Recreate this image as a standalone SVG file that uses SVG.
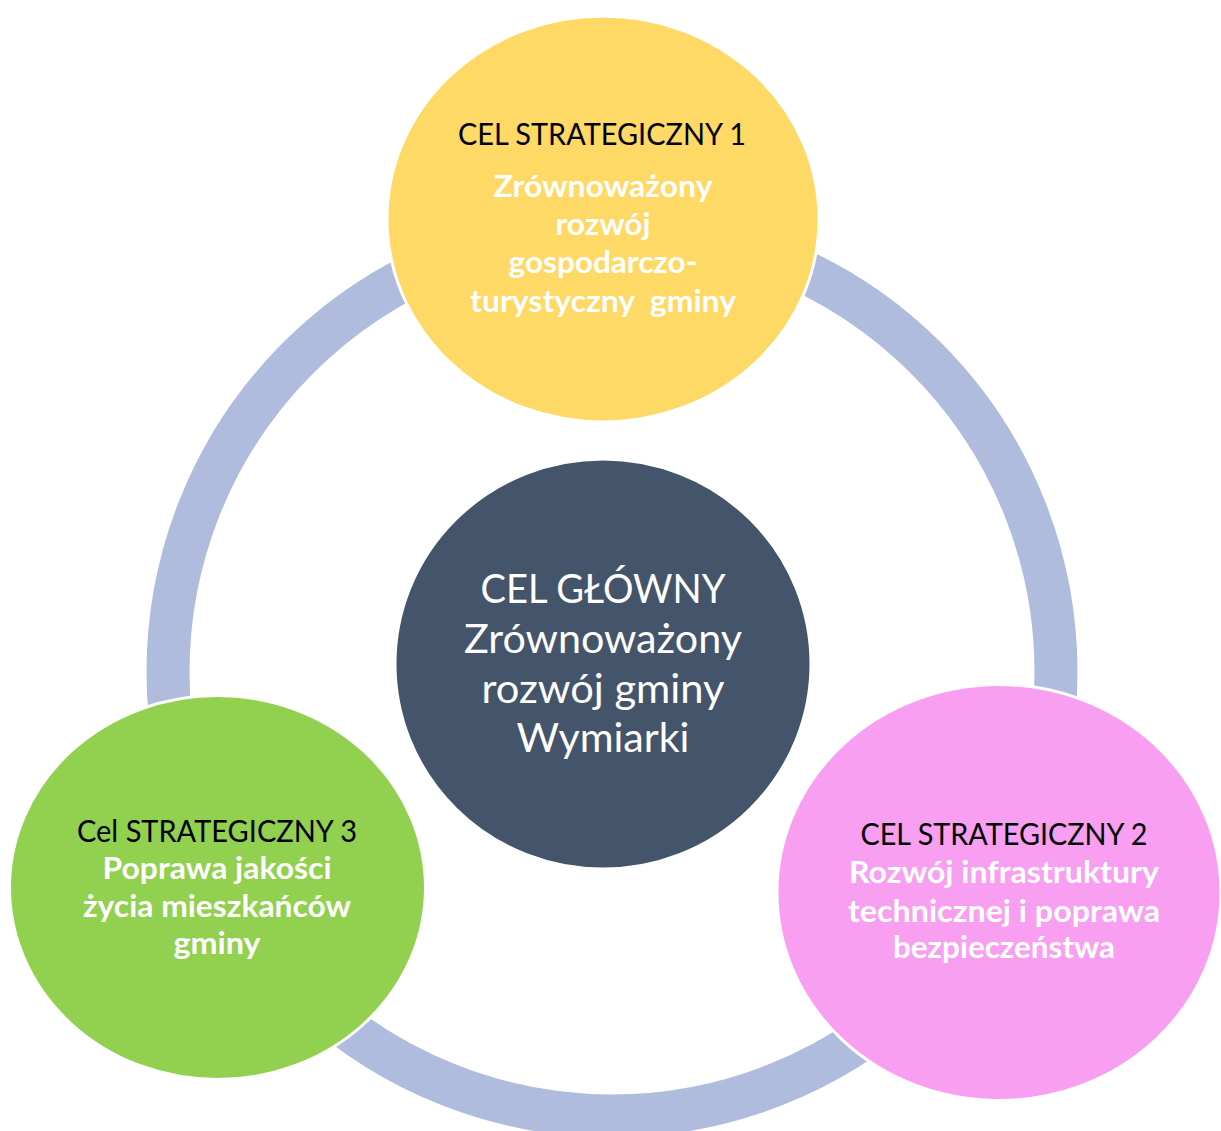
<svg xmlns="http://www.w3.org/2000/svg" width="1221" height="1131" viewBox="0 0 1221 1131">
<style>
.node{stroke:#FFFFFF;stroke-width:3}
.t{font-family:Lato,"Liberation Sans",sans-serif;text-anchor:middle}
.title{font-size:30px;fill:#000000}
.sub{font-size:31px;font-weight:bold;fill:#FFFFFF}
.main{font-size:40px;fill:#FFFFFF}
</style>
<rect width="1221" height="1131" fill="#FFFFFF"/>
<g id="connectors">
<circle cx="612" cy="672" r="444" fill="none" stroke="#AFBCDD" stroke-width="43"/>
</g>
<g id="center">
<ellipse class="node" cx="603" cy="664" rx="208" ry="205" fill="#44546A"/>
<text class="t main" x="603" y="603" textLength="245" lengthAdjust="spacingAndGlyphs">CEL GŁÓWNY</text>
<text class="t main" x="603" y="653" textLength="278" lengthAdjust="spacingAndGlyphs">Zrównoważony</text>
<text class="t main" x="603" y="703" textLength="243" lengthAdjust="spacingAndGlyphs">rozwój gminy</text>
<text class="t main" x="603" y="752" textLength="173" lengthAdjust="spacingAndGlyphs">Wymiarki</text>
</g>
<g id="cel1">
<ellipse class="node" cx="603" cy="219" rx="216" ry="203" fill="#FFD966"/>
<text class="t title" x="602" y="145" textLength="288" lengthAdjust="spacingAndGlyphs">CEL STRATEGICZNY 1</text>
<text class="t sub" x="603" y="197" textLength="219" lengthAdjust="spacingAndGlyphs">Zrównoważony</text>
<text class="t sub" x="603" y="235" textLength="95" lengthAdjust="spacingAndGlyphs">rozwój</text>
<text class="t sub" x="603" y="273" textLength="189" lengthAdjust="spacingAndGlyphs">gospodarczo-</text>
<text class="t sub" x="603" y="312" textLength="266" lengthAdjust="spacingAndGlyphs" xml:space="preserve">turystyczny  gminy</text>
</g>
<g id="cel3">
<ellipse class="node" cx="217.5" cy="887.5" rx="208" ry="192" fill="#92D050"/>
<text class="t title" x="217" y="842" textLength="280" lengthAdjust="spacingAndGlyphs">Cel STRATEGICZNY 3</text>
<text class="t sub" x="217" y="879" textLength="229" lengthAdjust="spacingAndGlyphs">Poprawa jakości</text>
<text class="t sub" x="217" y="917" textLength="268" lengthAdjust="spacingAndGlyphs">życia mieszkańców</text>
<text class="t sub" x="217" y="954" textLength="87" lengthAdjust="spacingAndGlyphs">gminy</text>
</g>
<g id="cel2">
<ellipse class="node" cx="999" cy="892.5" rx="222" ry="208" fill="#F99FF1"/>
<text class="t title" x="1004" y="845" textLength="287" lengthAdjust="spacingAndGlyphs">CEL STRATEGICZNY 2</text>
<text class="t sub" x="1004" y="883" textLength="310" lengthAdjust="spacingAndGlyphs">Rozwój infrastruktury</text>
<text class="t sub" x="1004" y="922" textLength="312" lengthAdjust="spacingAndGlyphs">technicznej i poprawa</text>
<text class="t sub" x="1004" y="958" textLength="222" lengthAdjust="spacingAndGlyphs">bezpieczeństwa</text>
</g>
</svg>
